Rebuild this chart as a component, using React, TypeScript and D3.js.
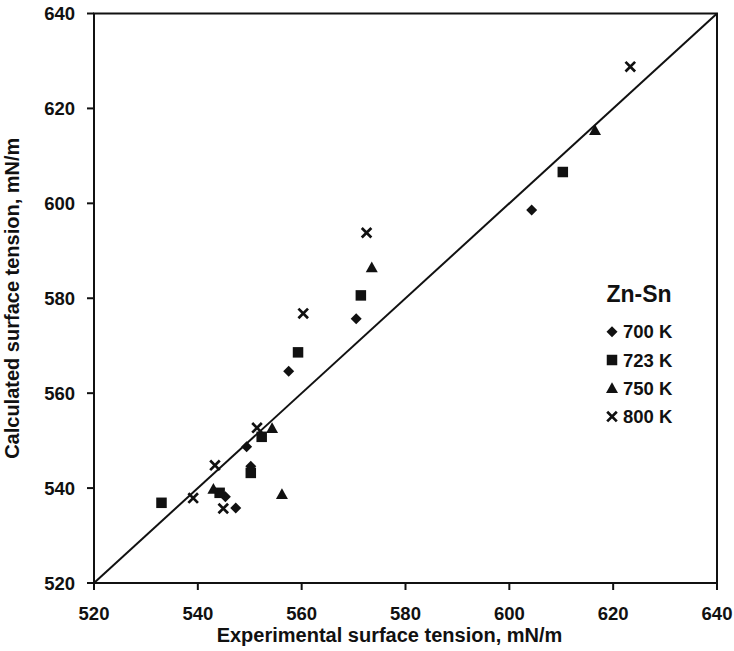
import React from "react";
import * as d3 from "d3";

const xTicks = [520, 540, 560, 580, 600, 620, 640];
const yTicks = [520, 540, 560, 580, 600, 620, 640];

const legendTitle = "Zn-Sn";
const seriesNames = ["700 K", "723 K", "750 K", "800 K"];

const s700: [number, number][] = [
  [604.3, 598.6], [570.5, 575.7], [557.5, 564.6], [549.4, 548.7],
  [550.2, 544.6], [545.3, 538.2], [547.3, 535.8],
];
const s723: [number, number][] = [
  [610.3, 606.6], [571.4, 580.6], [559.3, 568.6], [552.3, 550.8],
  [550.2, 543.2], [544.2, 539.0], [533.0, 536.9],
];
const s750: [number, number][] = [
  [616.5, 615.4], [573.5, 586.5], [554.3, 552.6], [556.2, 538.7], [543.0, 539.8],
];
const s800: [number, number][] = [
  [623.3, 628.8], [572.5, 593.8], [560.3, 576.8], [551.4, 552.7],
  [543.3, 544.8], [539.1, 537.9], [544.9, 535.7],
];

const W = 734;
const H = 651;
const L = 94, R = 717, T = 13.5, B = 583;
const FONT = "'Liberation Sans', Arial, sans-serif";
const INK = "#111";

function Marker({ kind, x, y }: { kind: number; x: number; y: number }) {
  if (kind === 0) {
    const r = 5.5;
    return <path d={`M${x},${y - r}L${x + r},${y}L${x},${y + r}L${x - r},${y}Z`} fill={INK} />;
  }
  if (kind === 1) {
    const s = 10.5;
    return <rect x={x - s / 2} y={y - s / 2} width={s} height={s} fill={INK} />;
  }
  if (kind === 2) {
    const s = 6;
    return <path d={`M${x},${y - s}L${x + s},${y + s * 0.8}L${x - s},${y + s * 0.8}Z`} fill={INK} />;
  }
  const r = 4.8;
  return (
    <path
      d={`M${x - r},${y - r}L${x + r},${y + r}M${x - r},${y + r}L${x + r},${y - r}`}
      stroke={INK}
      strokeWidth={2.7}
      fill="none"
    />
  );
}

export default function App() {
  const x = d3.scaleLinear().domain([520, 640]).range([L, R]);
  const y = d3.scaleLinear().domain([520, 640]).range([B, T]);
  const series = [s700, s723, s750, s800];
  const legX = 612;
  const legY0 = 331.7;
  const legDy = 28.3;

  return (
    <svg
      width={W}
      height={H}
      style={{ position: "absolute", left: 0, top: 0, background: "#fff" }}
      fontFamily={FONT}
    >
      <rect x={0} y={0} width={W} height={H} fill="#fff" />
      {/* frame */}
      <rect x={L} y={T} width={R - L} height={B - T} fill="none" stroke={INK} strokeWidth={2} />
      {/* diagonal */}
      <line x1={x(520)} y1={y(520)} x2={x(640)} y2={y(640)} stroke={INK} strokeWidth={2} />
      {/* x ticks */}
      {xTicks.map((t) => (
        <g key={"xt" + t}>
          <line x1={x(t)} x2={x(t)} y1={B} y2={B + 7} stroke={INK} strokeWidth={2} />
          <text x={x(t)} y={619.5} textAnchor="middle" fontSize={18.5} fontWeight="bold" fill={INK}>
            {t}
          </text>
        </g>
      ))}
      {/* y ticks */}
      {yTicks.map((t) => (
        <g key={"yt" + t}>
          <line x1={L - 7} x2={L} y1={y(t)} y2={y(t)} stroke={INK} strokeWidth={2} />
          <text x={75} y={y(t)} dy="0.36em" textAnchor="end" fontSize={18.5} fontWeight="bold" fill={INK}>
            {t}
          </text>
        </g>
      ))}
      {/* axis titles */}
      <text x={(L + R) / 2 - 16} y={641.5} textAnchor="middle" fontSize={20} fontWeight="bold" fill={INK}>
        Experimental surface tension, mN/m
      </text>
      <text
        transform={`translate(19,${(T + B) / 2}) rotate(-90)`}
        textAnchor="middle"
        fontSize={20}
        fontWeight="bold"
        fill={INK}
      >
        Calculated surface tension, mN/m
      </text>
      {/* data */}
      {series.map((s, i) =>
        s.map((p, j) => <Marker key={`m${i}-${j}`} kind={i} x={x(p[0])} y={y(p[1])} />)
      )}
      {/* legend */}
      <text x={639} y={302} textAnchor="middle" fontSize={23} fontWeight="bold" fill={INK}>
        {legendTitle}
      </text>
      {seriesNames.map((n, i) => (
        <g key={"lg" + i}>
          <Marker kind={i} x={legX} y={legY0 + i * legDy} />
          <text x={623} y={legY0 + i * legDy} dy="0.36em" fontSize={18.5} fontWeight="bold" fill={INK}>
            {n}
          </text>
        </g>
      ))}
    </svg>
  );
}
